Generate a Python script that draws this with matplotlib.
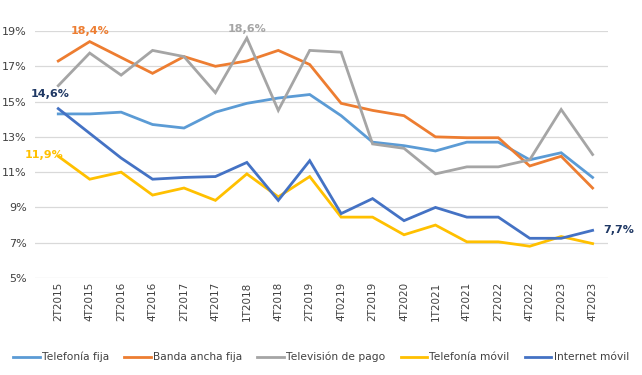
import matplotlib
matplotlib.use("Agg")
import matplotlib.pyplot as plt

periods = ["2T2015", "4T2015", "2T2016", "4T2016", "2T2017", "4T2017", "1T2018", "4T2018",
           "2T2019", "4T0219", "2T2019", "4T2020", "1T2021", "4T2021", "2T2022", "4T2022",
           "2T2023", "4T2023"]

telefonia_fija = [14.3, 14.3, 14.4, 13.7, 13.5, 14.4, 14.9, 15.2, 15.4, 14.2, 12.7, 12.5,
                  12.2, 12.7, 12.7, 11.7, 12.1, 10.7]
banda_ancha_fija = [17.3, 18.4, 17.5, 16.6, 17.55, 17.0, 17.3, 17.9, 17.1, 14.9, 14.5, 14.2,
                    13.0, 12.95, 12.95, 11.35, 11.9, 10.1]
television_pago = [15.9, 17.75, 16.5, 17.9, 17.55, 15.5, 18.6, 14.5, 17.9, 17.8, 12.6, 12.35,
                   10.9, 11.3, 11.3, 11.7, 14.55, 12.0]
telefonia_movil = [11.9, 10.6, 11.0, 9.7, 10.1, 9.4, 10.9, 9.6, 10.75, 8.45, 8.45, 7.45,
                   8.0, 7.05, 7.05, 6.8, 7.35, 6.95]
internet_movil = [14.6, 13.2, 11.8, 10.6, 10.7, 10.75, 11.55, 9.4, 11.65, 8.65, 9.5, 8.25,
                  9.0, 8.45, 8.45, 7.25, 7.25, 7.7]

series = [
    ("Telefonía fija", telefonia_fija, "#5B9BD5"),
    ("Banda ancha fija", banda_ancha_fija, "#ED7D31"),
    ("Televisión de pago", television_pago, "#A5A5A5"),
    ("Telefonía móvil", telefonia_movil, "#FFC000"),
    ("Internet móvil", internet_movil, "#4472C4"),
]

fig = plt.figure(figsize=(6.42, 3.75), dpi=100)
ax = fig.add_axes([35/642, 1-278/375, (608-35)/642, (278-31)/375])

x = list(range(len(periods)))
for name, vals, col in series:
    ax.plot(x, vals, color=col, lw=2.0, label=name, solid_joinstyle="miter")

ax.set_ylim(5, 19)
ax.set_xlim(-0.74, 17.49)
ax.set_yticks([5, 7, 9, 11, 13, 15, 17, 19])
ax.set_yticklabels([f"{v}%" for v in [5, 7, 9, 11, 13, 15, 17, 19]], fontsize=8, color="#404040")
ax.set_xticks(x)
ax.set_xticklabels(periods, rotation=90, fontsize=7.5, color="#404040")
ax.tick_params(axis="both", length=0, pad=3)
ax.tick_params(axis="y", pad=6)
ax.grid(axis="y", color="#D9D9D9", lw=0.9)
ax.set_axisbelow(True)
for s in ax.spines.values():
    s.set_visible(False)

bold = dict(fontsize=8, fontweight="bold")
ax.annotate("18,4%", (1, banda_ancha_fija[1]), xytext=(0, 4), textcoords="offset points",
            ha="center", va="bottom", color="#ED7D31", **bold)
ax.annotate("18,6%", (6, television_pago[6]), xytext=(0, 3), textcoords="offset points",
            ha="center", va="bottom", color="#A5A5A5", **bold)
ax.annotate("14,6%", (0, internet_movil[0]), xytext=(-6, 7), textcoords="offset points",
            ha="center", va="bottom", color="#1F3864", **bold, annotation_clip=False)
ax.annotate("11,9%", (0, telefonia_movil[0]), xytext=(-10, 1), textcoords="offset points",
            ha="center", va="center", color="#FFC000", **bold, annotation_clip=False)
ax.annotate("7,7%", (17, internet_movil[17]), xytext=(8, 0), textcoords="offset points",
            ha="left", va="center", color="#1F3864", **bold, annotation_clip=False)

fig.legend(loc="center", bbox_to_anchor=(0.5, 1-357/375), ncol=5, frameon=False,
           fontsize=7.7, handlelength=2.5, handletextpad=0.2, columnspacing=1.4,
           labelcolor="#404040", borderaxespad=0, borderpad=0)

fig.savefig("out.png", dpi=100)
